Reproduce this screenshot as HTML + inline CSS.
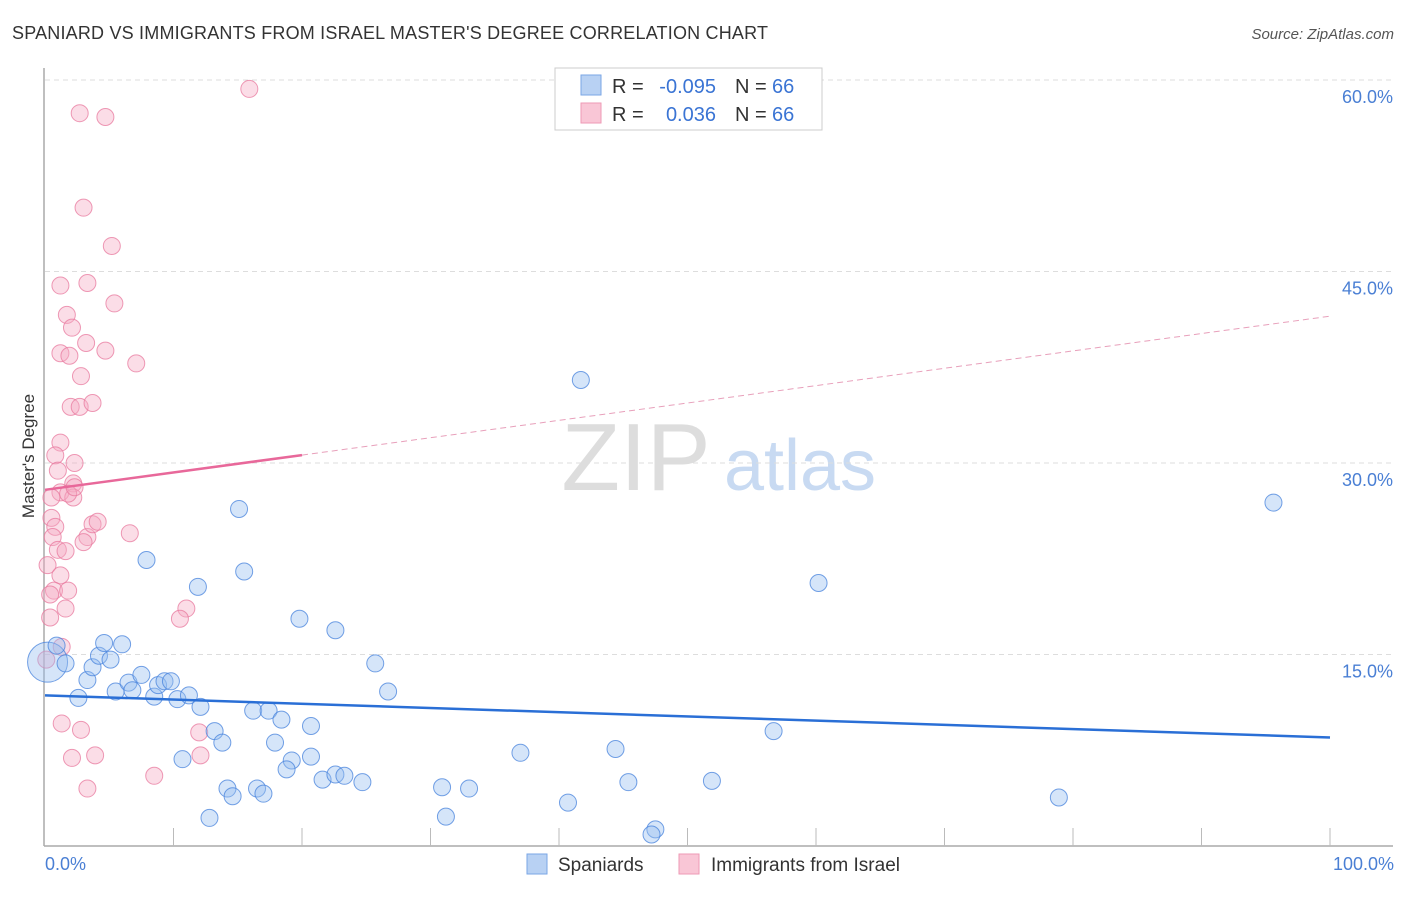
<!DOCTYPE html>
<html><head><meta charset="utf-8"><style>
body{margin:0;background:#fff;font-family:"Liberation Sans",sans-serif;}
svg text{font-family:"Liberation Sans",sans-serif;}
</style></head><body>
<svg id="chart" width="1406" height="892" xmlns="http://www.w3.org/2000/svg">
<text x="12" y="39" font-size="18" fill="#333" textLength="756">SPANIARD VS IMMIGRANTS FROM ISRAEL MASTER'S DEGREE CORRELATION CHART</text>
<text x="1394" y="39" font-size="15" fill="#555" text-anchor="end" font-style="italic">Source: ZipAtlas.com</text>
<text x="636" y="490" font-size="96" fill="#ddd" font-family="Liberation Serif" text-anchor="middle">ZIP</text>
<text x="800" y="490" font-size="72" fill="#c8daf2" text-anchor="middle">atlas</text>
<g id="grid"></g><g id="axes"></g><g id="marks"></g>
<text transform="translate(34,456) rotate(-90)" font-size="17" fill="#333" text-anchor="middle">Master's Degree</text>
<text x="45" y="870" font-size="18" fill="#4a7fd4">0.0%</text>
<text x="1394" y="870" font-size="18" fill="#4a7fd4" text-anchor="end">100.0%</text>
<g>
<rect x="555" y="68" width="267" height="62" fill="#fff" stroke="#ccc"/>
<rect x="581" y="75" width="20" height="20" fill="#b8d1f3" stroke="#7aa6e6"/>
<rect x="581" y="103" width="20" height="20" fill="#f9c6d6" stroke="#ee9ab5"/>
<text x="612" y="93" font-size="20" fill="#333">R =</text>
<text x="716" y="93" font-size="20" fill="#3a74d4" text-anchor="end">-0.095</text>
<text x="735" y="93" font-size="20" fill="#333">N =</text>
<text x="772" y="93" font-size="20" fill="#3a74d4">66</text>
<text x="612" y="121" font-size="20" fill="#333">R =</text>
<text x="716" y="121" font-size="20" fill="#3a74d4" text-anchor="end">0.036</text>
<text x="735" y="121" font-size="20" fill="#333">N =</text>
<text x="772" y="121" font-size="20" fill="#3a74d4">66</text>
</g>
<g>
<rect x="527" y="854" width="20" height="20" fill="#b8d1f3" stroke="#7aa6e6"/>
<text x="558" y="871" font-size="19" fill="#333">Spaniards</text>
<rect x="679" y="854" width="20" height="20" fill="#f9c6d6" stroke="#ee9ab5"/>
<text x="711" y="871" font-size="19" fill="#333">Immigrants from Israel</text>
</g>
</svg>
<script>
const yTicks=[15,30,45,60];
const yTickLabels=["15.0%","30.0%","45.0%","60.0%"];
const xTicks=[10,20,30,40,50,60,70,80,90,100];
const blueX=[0.2,0.9,1.6,2.6,3.3,3.7,4.2,4.6,5.1,6.0,5.5,6.5,6.8,7.5,8.5,8.8,9.3,9.8,10.3,11.2,12.1,11.9,7.9,15.1,15.5,19.8,22.6,25.7,26.7,13.2,13.8,10.7,14.2,14.6,12.8,16.5,17.0,16.2,17.4,18.4,17.9,19.2,18.8,20.7,20.7,21.6,22.6,23.3,24.7,30.9,33.0,31.2,40.7,45.4,47.5,47.2,37.0,44.4,51.9,56.7,60.2,41.7,95.6,78.9];
const blueY=[14.4,15.7,14.3,11.6,13.0,14.0,14.9,15.9,14.6,15.8,12.1,12.8,12.2,13.4,11.7,12.6,12.9,12.9,11.5,11.8,10.9,20.3,22.4,26.4,21.5,17.8,16.9,14.3,12.1,9.0,8.1,6.8,4.5,3.9,2.2,4.5,4.1,10.6,10.6,9.9,8.1,6.7,6.0,9.4,7.0,5.2,5.6,5.5,5.0,4.6,4.5,2.3,3.4,5.0,1.3,0.9,7.3,7.6,5.1,9.0,20.6,36.5,26.9,3.8];
const pinkX=[15.9,2.7,4.7,3.0,5.2,1.2,3.3,5.4,1.7,2.1,3.2,1.2,1.9,4.7,7.1,2.8,2.0,2.7,3.7,1.2,0.8,2.3,1.0,1.2,2.2,2.2,1.8,2.3,0.5,0.5,0.8,0.6,1.0,1.6,0.2,1.2,0.7,0.4,1.6,0.4,1.8,3.3,3.0,3.7,4.1,6.6,11.0,10.5,1.3,1.3,2.8,2.1,3.9,3.3,8.5,12.0,12.1,0.1];
const pinkY=[59.3,57.4,57.1,50.0,47.0,43.9,44.1,42.5,41.6,40.6,39.4,38.6,38.4,38.8,37.8,36.8,34.4,34.4,34.7,31.6,30.6,30.0,29.4,27.7,28.4,27.3,27.6,28.1,27.3,25.7,25.0,24.2,23.2,23.1,22.0,21.2,20.0,19.7,18.6,17.9,20.0,24.2,23.8,25.2,25.4,24.5,18.6,17.8,15.6,9.6,9.1,6.9,7.1,4.5,5.5,8.9,7.1,14.6];
const blueTrend=[11.8,8.5];
const pinkTrend=[27.9,41.5];
const NS="http://www.w3.org/2000/svg";
const X0=45,X1=1330,Y0=846,YS=191.5/15;
function sx(v){return X0+(X1-X0)*v/100;}
function sy(v){return Y0-v*YS;}
function mk(tag,attrs,parent){const e=document.createElementNS(NS,tag);for(const k in attrs)e.setAttribute(k,attrs[k]);document.getElementById(parent).appendChild(e);return e;}
yTicks.forEach((t,i)=>{
 const l=mk('line',{x1:45,x2:1393,y1:sy(t),y2:sy(t),stroke:'#ddd','stroke-dasharray':'5,4'},'grid');
 
 
 const tx=mk('text',{x:1393,y:sy(t)+23,'font-size':18,fill:'#4a7fd4','text-anchor':'end'},'grid');
 tx.textContent=yTickLabels[i];
 
 
});
const ax=mk('line',{x1:44,x2:44,y1:68,y2:846,stroke:'#aaa','stroke-width':1.5},'axes');


const bx=mk('line',{x1:44,x2:1393,y1:846,y2:846,stroke:'#aaa','stroke-width':1.5},'axes');


xTicks.forEach(t=>{
 const l=mk('line',{x1:sx(t),x2:sx(t),y1:828,y2:846,stroke:'#bbb'},'axes');
 
 
});
pinkX.forEach((x,i)=>{
 const c=mk('circle',{cx:sx(x),cy:sy(pinkY[i]),r:8.5,fill:'rgba(246,170,196,0.4)',stroke:'rgba(232,120,158,0.75)','stroke-width':1},'marks');
 
 
});
blueX.forEach((x,i)=>{
 const c=mk('circle',{cx:sx(x),cy:sy(blueY[i]),r:i===0?20:8.5,fill:'rgba(150,190,240,0.4)',stroke:'rgba(70,130,220,0.75)','stroke-width':1},'marks');
 
 
});
const bt=mk('line',{x1:sx(0),y1:sy(blueTrend[0]),x2:sx(100),y2:sy(blueTrend[1]),stroke:'#2a6fd6','stroke-width':2.5},'marks');


const p20=pinkTrend[0]+(pinkTrend[1]-pinkTrend[0])*0.2;
const pt=mk('line',{x1:sx(0),y1:sy(pinkTrend[0]),x2:sx(20),y2:sy(p20),stroke:'#e8689a','stroke-width':2.5},'marks');


const pd=mk('line',{x1:sx(20),y1:sy(p20),x2:sx(100),y2:sy(pinkTrend[1]),stroke:'#e8a0bb','stroke-width':1,'stroke-dasharray':'6,4'},'marks');


</script>
</body></html>
